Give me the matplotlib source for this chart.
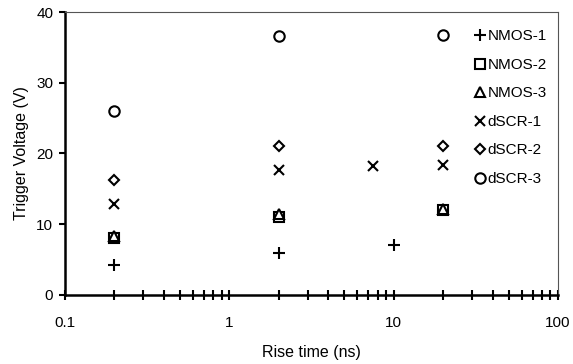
import matplotlib
matplotlib.use('Agg')
import matplotlib.pyplot as plt
from matplotlib.ticker import LogLocator, NullFormatter, FixedLocator

plt.rcParams['font.family'] = ['Liberation Sans', 'DejaVu Sans']
plt.rcParams['font.size'] = 11

# data
x_nmos1 = [0.2, 2, 10]
y_nmos1 = [4.2, 6.0, 7.0]
x_nmos2 = [0.2, 2, 20]
y_nmos2 = [8.1, 11.0, 12.0]
x_nmos3 = [0.2, 2, 20]
y_nmos3 = [8.3, 11.5, 12.2]
x_dscr1 = [0.2, 2, 7.5, 20]
y_dscr1 = [12.9, 17.7, 18.2, 18.4]
x_dscr2 = [0.2, 2, 20]
y_dscr2 = [16.3, 21.0, 21.0]
x_dscr3 = [0.2, 2, 20]
y_dscr3 = [26.0, 36.6, 36.7]

series = [
    ('NMOS-1', x_nmos1, y_nmos1, '+', 9),
    ('NMOS-2', x_nmos2, y_nmos2, 's', 7),
    ('NMOS-3', x_nmos3, y_nmos3, '^', 6.5),
    ('dSCR-1', x_dscr1, y_dscr1, 'x', 7.5),
    ('dSCR-2', x_dscr2, y_dscr2, 'D', 5.5),
    ('dSCR-3', x_dscr3, y_dscr3, 'o', 7.5),
]

fig = plt.figure(figsize=(5.73, 3.64), dpi=100)
ax = fig.add_axes([0.1134, 0.1896, 0.8604, 0.7774])

for name, xs, ys, m, ms in series:
    ax.plot(xs, ys, linestyle='none', marker=m, markersize=ms,
            markerfacecolor='white', markeredgecolor='black',
            markeredgewidth=1.5, color='black', label=name, clip_on=False)

ax.set_xscale('log')
ax.set_xlim(0.1, 100)
ax.set_ylim(0, 40)
ax.set_yticks([0, 10, 20, 30, 40])
ax.xaxis.set_major_locator(FixedLocator([0.1, 1, 10, 100]))
ax.set_xticklabels(['0.1', '1', '10', '100'])
ax.xaxis.set_minor_locator(LogLocator(base=10, subs=range(2, 10)))
ax.xaxis.set_minor_formatter(NullFormatter())

ax.tick_params(axis='x', which='both', direction='inout', length=6.5,
               width=1.5, pad=12, labelsize=11)
ax.tick_params(axis='y', which='major', direction='out', length=4.5,
               width=1.5, pad=4, labelsize=11)

for side in ('left', 'bottom'):
    ax.spines[side].set_linewidth(1.8)
for side in ('top', 'right'):
    ax.spines[side].set_linewidth(0.8)
    ax.spines[side].set_color('#555555')

ax.set_xlabel('Rise time (ns)', fontsize=11.5, labelpad=11)
ax.set_ylabel('Trigger Voltage (V)', fontsize=11.5, labelpad=5)

ax.legend(loc='upper right', frameon=False, handlelength=0.6,
          handletextpad=0.2, labelspacing=0.95, borderaxespad=0.0,
          fontsize=11, bbox_to_anchor=(0.99, 0.96))

fig.savefig('out.png', dpi=100, facecolor='white')
